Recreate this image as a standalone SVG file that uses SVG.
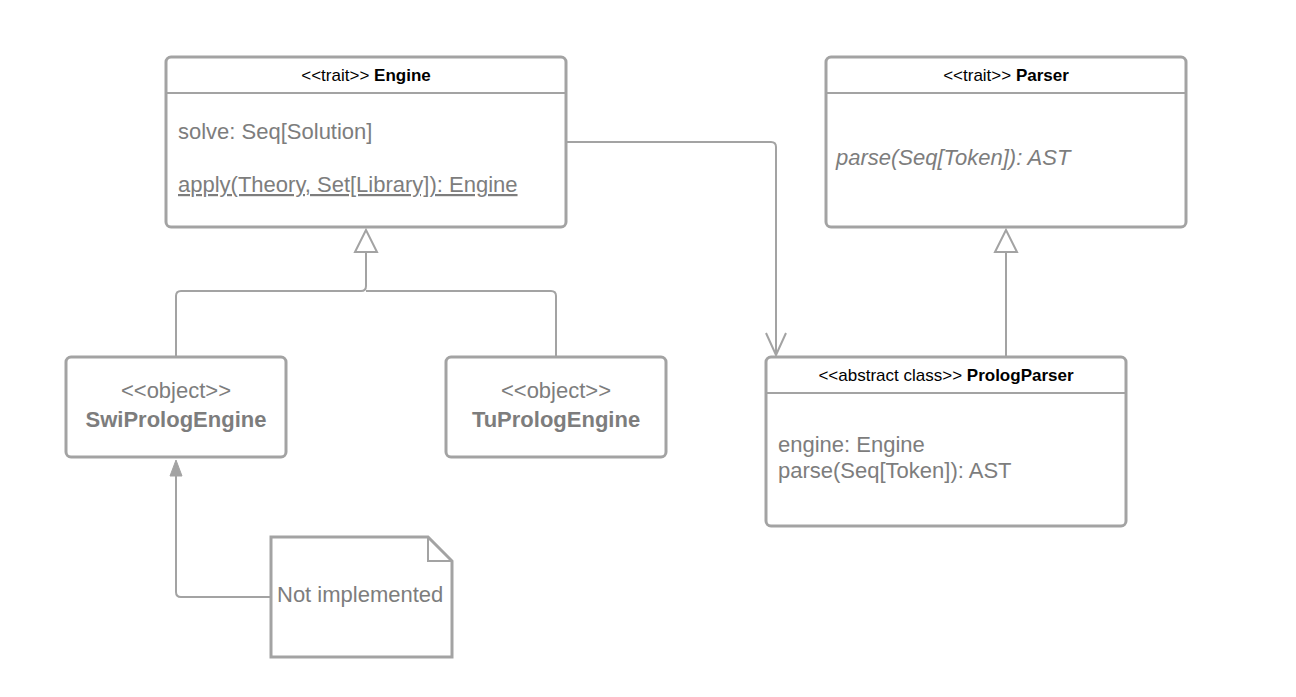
<svg xmlns="http://www.w3.org/2000/svg" width="1296" height="697" viewBox="0 0 1296 697">
<defs>
<style>
.box{fill:#fff;stroke:#a3a3a3;stroke-width:3}
.ln{fill:none;stroke:#a3a3a3;stroke-width:2}
.hd{font-family:"Liberation Sans",Arial,sans-serif;font-size:17px;fill:#000;text-anchor:middle}
.b{font-weight:bold}
.tx{font-family:"Liberation Sans",Arial,sans-serif;font-size:22px;fill:#7d7d7d}
.ob{font-family:"Liberation Sans",Arial,sans-serif;font-size:22px;fill:#7d7d7d;text-anchor:middle}
</style>
</defs>
<rect width="1296" height="697" fill="#fff"/>
<g id="connectors">
<path class="ln" d="M176,357 V296 Q176,291 181,291 H361 Q366,291 366,286 V252"/>
<path class="ln" d="M556,357 V296 Q556,291 551,291 H366"/>
<path class="ln" d="M355,252 L366,230 L377,252 Z" fill="#fff"/>
<path class="ln" d="M1006,357 V252"/>
<path class="ln" d="M995,252 L1006,230 L1017,252 Z"/>
<path class="ln" d="M566,142 H771 Q776,142 776,147 V355"/>
<path class="ln" d="M766,333 L776,355 L786,333"/>
<path class="ln" d="M271,597 H181 Q176,597 176,592 V470"/>
<path d="M170,476 L176,460 L182,476 Z" fill="#a3a3a3" stroke="#a3a3a3" stroke-width="1"/>
</g>
<g id="engine">
<rect class="box" x="166" y="57" width="400" height="170" rx="5"/>
<line class="ln" x1="166" y1="93" x2="566" y2="93" stroke-width="3"/>
<text class="hd" x="366" y="81">&lt;&lt;trait&gt;&gt; <tspan class="b">Engine</tspan></text>
<text class="tx" x="178" y="139">solve: Seq[Solution]</text>
<text class="tx" x="178" y="192" text-decoration="underline">apply(Theory, Set[Library]): Engine</text>
</g>
<g id="parser">
<rect class="box" x="826" y="57" width="360" height="170" rx="5"/>
<line class="ln" x1="826" y1="93" x2="1186" y2="93" stroke-width="3"/>
<text class="hd" x="1006" y="81">&lt;&lt;trait&gt;&gt; <tspan class="b">Parser</tspan></text>
<text class="tx" x="836" y="165" font-style="italic">parse(Seq[Token]): AST</text>
</g>
<g id="swi">
<rect class="box" x="66" y="357" width="220" height="100" rx="5"/>
<text class="ob" x="176" y="398">&lt;&lt;object&gt;&gt;</text>
<text class="ob b" x="176" y="427">SwiPrologEngine</text>
</g>
<g id="tu">
<rect class="box" x="446" y="357" width="220" height="100" rx="5"/>
<text class="ob" x="556" y="398">&lt;&lt;object&gt;&gt;</text>
<text class="ob b" x="556" y="427">TuPrologEngine</text>
</g>
<g id="prologparser">
<rect class="box" x="766" y="357" width="360" height="169" rx="5"/>
<line class="ln" x1="766" y1="393" x2="1126" y2="393" stroke-width="3"/>
<text class="hd" x="946" y="381">&lt;&lt;abstract class&gt;&gt; <tspan class="b">PrologParser</tspan></text>
<text class="tx" x="778" y="452">engine: Engine</text>
<text class="tx" x="778" y="478">parse(Seq[Token]): AST</text>
</g>
<g id="note">
<path class="box" d="M271,537 H428 L452,561 V657 H271 Z"/>
<path class="ln" d="M428,537 V561 H452" stroke-width="3"/>
<text class="tx" x="277" y="602">Not implemented</text>
</g>
</svg>
